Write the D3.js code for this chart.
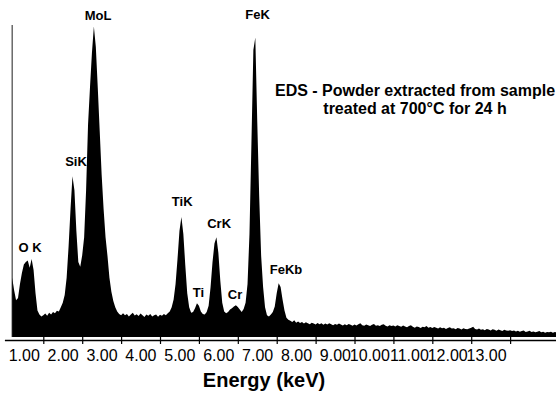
<!DOCTYPE html>
<html>
<head>
<meta charset="utf-8">
<script src="https://cdn.jsdelivr.net/npm/d3@7"></script>
<style>
    html, body { margin: 0; padding: 0; background: #fff; }
    svg { display: block; }
    .peak-label { font: bold 13px "Liberation Sans", Arial, sans-serif; fill: #000; }
    .title { font: bold 16px "Liberation Sans", Arial, sans-serif; fill: #000; }
    .axis-title { font: bold 20px "Liberation Sans", Arial, sans-serif; fill: #000; }
    .x-axis text { font: 16px "Liberation Sans", Arial, sans-serif; fill: #000; }
</style>
</head>
<body>
<div id="chart"></div>
<script>
// ============================================
// EDS spectrum - powder extracted from sample
// ============================================

// channel calibration (keV)
const startEnergy = 0.2;
const stepEnergy = 0.05;

// counts per channel, one row per keV
const counts = [
    190, 150, 118, 125, 170, 205, 232, 240, 245, 222, 250, 215, 140, 85, 72, 66,
    70, 75, 68, 78, 72, 80, 76, 84, 82, 95, 110, 135, 190, 290, 410, 515, 470, 340, 240, 225,
    262, 320, 470, 680, 800, 910, 995, 930, 800, 660, 520, 410, 320, 260, 190, 145, 115, 95, 82, 74,
    70, 76, 70, 74, 66, 72, 78, 69, 73, 67, 75, 70, 64, 72, 68, 74, 66, 70, 72, 65,
    71, 68, 74, 70, 76, 82, 95, 120, 170, 250, 340, 385, 330, 230, 140, 95, 78, 80, 92, 108,
    100, 82, 74, 72, 80, 100, 160, 240, 300, 320, 270, 180, 110, 82, 76, 80, 88, 92, 98, 102,
    96, 88, 80, 90, 110, 170, 330, 620, 920, 960, 690, 450, 260, 160, 95, 70, 66, 72, 80, 98,
    140, 172, 160, 120, 85, 62, 55, 52, 48, 54, 46, 50, 45, 48, 43, 47, 44, 41, 46, 43,
    40, 45, 41, 44, 39, 43, 40, 44, 41, 38, 42, 39, 43, 40, 37, 41, 38, 42, 39, 36,
    40, 37, 41, 44, 38, 36, 40, 38, 35, 39, 42, 36, 38, 35, 39, 41, 36, 34, 38, 35,
    37, 34, 38, 35, 33, 37, 34, 31, 35, 38, 33, 30, 34, 32, 29, 33, 31, 35, 30, 32,
    29, 32, 30, 27, 31, 28, 30, 26, 29, 31, 27, 28, 25, 29, 27, 24, 28, 26, 25, 27,
    30, 33, 26, 24, 27, 23, 25, 22, 26, 24, 21, 25, 23, 20, 24, 22, 19, 23, 21, 20,
    22, 19, 21, 18, 20, 17, 19, 21, 16, 18, 20, 16, 18, 15, 17, 19, 15, 17, 14, 16,
    15, 17, 14, 16, 15
];

// x axis ticks
const tickValues = [1, 2, 3, 4, 5, 6, 7, 8, 9, 10, 11, 12, 13];
const tickLabels = ["1.00", "2.00", "3.00", "4.00", "5.00", "6.00", "7.00",
    "8.00", "9.00", "10.00", "11.00", "12.00", "13.00"];

// peak labels (anchor in keV / counts)
const peakNames = ["O K", "SiK", "MoL", "TiK", "Ti", "CrK", "Cr", "FeK", "FeKb"];
const peakEnergies = [0.66, 1.84, 2.41, 4.57, 4.99, 5.52, 5.93, 6.51, 7.24];
const peakCounts = [272, 548, 1016, 420, 128, 349, 122, 1019, 202];

const titleLines = ["EDS - Powder extracted from sample", "treated at 700°C for 24 h"];
const xTitle = "Energy (keV)";

const width = 556;
const height = 395;

const svg = d3.select('#chart')
    .append('svg')
    .attr('width', width)
    .attr('height', height);

const x = d3.scaleLinear().domain([0, 14.2]).range([4.4, 556.8]);
const y = d3.scaleLinear().domain([0, 1000]).range([337, 25]);

const spectrum = counts.map((c, i) => ({ e: startEnergy + i * stepEnergy, c }));

// y axis line (no ticks)
svg.append('line')
    .attr('x1', x(0.2)).attr('x2', x(0.2))
    .attr('y1', y(1000)).attr('y2', y(0))
    .attr('stroke', '#444')
    .attr('stroke-width', 1.2);

// filled spectrum
const area = d3.area()
    .x(d => x(d.e))
    .y0(y(0))
    .y1(d => y(d.c));

svg.append('path')
    .datum(spectrum)
    .attr('d', area)
    .attr('fill', '#000');

// x axis
const xAxis = d3.axisBottom(x)
    .tickValues(tickValues)
    .tickFormat((d, i) => tickLabels[i])
    .tickSizeOuter(0)
    .tickSizeInner(4);

const gx = svg.append('g')
    .attr('class', 'x-axis')
    .attr('transform', 'translate(0,340)')
    .call(xAxis);

gx.select('.domain').attr('stroke', '#000').attr('stroke-width', 1.6);
gx.selectAll('.tick line').attr('y1', -3).attr('y2', 4).attr('stroke', '#000').attr('stroke-width', 1.2);
gx.selectAll('.tick text')
    .attr('text-anchor', 'end')
    .attr('x', -4)
    .attr('y', 21)
    .attr('dy', 0);

svg.append('text')
    .attr('class', 'axis-title')
    .attr('x', 264)
    .attr('y', 387)
    .attr('text-anchor', 'middle')
    .text(xTitle);

// peak labels
svg.append('g')
    .selectAll('text')
    .data(peakNames)
    .join('text')
    .attr('class', 'peak-label')
    .attr('x', (d, i) => x(peakEnergies[i]))
    .attr('y', (d, i) => y(peakCounts[i]))
    .attr('text-anchor', 'middle')
    .text(d => d);

// title block
svg.append('g')
    .selectAll('text')
    .data(titleLines)
    .join('text')
    .attr('class', 'title')
    .attr('x', 415)
    .attr('y', (d, i) => 96 + i * 18)
    .attr('text-anchor', 'middle')
    .text(d => d);
</script>
</body>
</html>
